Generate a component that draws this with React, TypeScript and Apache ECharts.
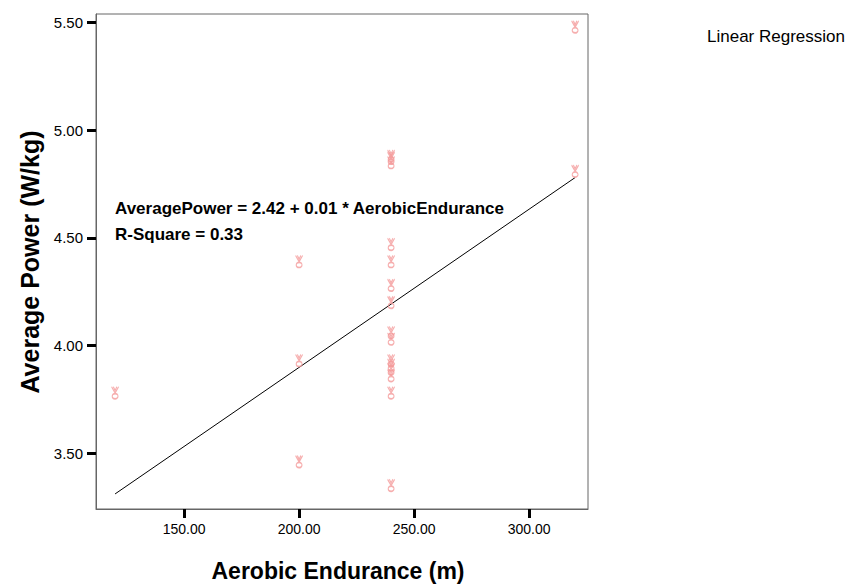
import React, { useEffect, useRef } from "react";
import * as echarts from "echarts";

// Data
const aerobicEndurance = [
  120,
  200, 200, 200,
  240, 240, 240, 240, 240, 240, 240, 240, 240, 240, 240, 240, 240, 240, 240,
  320, 320,
];
const averagePower = [
  3.78,
  4.39, 3.93, 3.46,
  4.88, 4.87, 4.85, 4.47, 4.39, 4.28, 4.2, 4.06, 4.03, 3.93, 3.91, 3.89, 3.86, 3.78, 3.35,
  5.48, 4.81,
];
const fitX = [120, 320];
const fitY = [3.31, 4.78];
const xTicks = [150, 200, 250, 300];
const yTicks = [3.5, 4.0, 4.5, 5.0, 5.5];

const equationText = "AveragePower = 2.42 + 0.01 * AerobicEndurance";
const rSquareText = "R-Square = 0.33";
const legendText = "Linear Regression";
const xTitle = "Aerobic Endurance (m)";
const yTitle = "Average Power (W/kg)";

const markerPath =
  "path://M0 0 L3 6 L6 0 M1.5 0 L3 3.5 L4.5 0 M0.5 9 a2.5 2.5 0 1 0 5 0 a2.5 2.5 0 1 0 -5 0";

export default function App() {
  const ref = useRef<HTMLDivElement>(null);
  useEffect(() => {
    document.body.style.margin = "0";
    const chart = echarts.init(ref.current!, null, { renderer: "svg" });
    const font = "'Liberation Sans', Arial, sans-serif";
    const points = aerobicEndurance.map((x, i) => [x, averagePower[i]]);
    const line = fitX.map((x, i) => [x, fitY[i]]);
    chart.setOption({
      animation: false,
      backgroundColor: "#ffffff",
      grid: {
        left: 96,
        right: 261,
        top: 14,
        bottom: 77,
        show: true,
        borderColor: "#666666",
        borderWidth: 1,
        backgroundColor: "transparent",
      },
      xAxis: {
        type: "value",
        min: 111.7,
        max: 325.6,
        axisLine: { show: true, lineStyle: { color: "#666666", width: 1 } },
        axisTick: {
          show: true,
          inside: false,
          length: 9,
          customValues: xTicks,
          lineStyle: { color: "#000000", width: 3 },
        },
        axisLabel: {
          customValues: xTicks,
          formatter: (v: number) => v.toFixed(2),
          color: "#000000",
          fontFamily: font,
          fontSize: 14,
          margin: 13,
        },
        splitLine: { show: false },
      },
      yAxis: {
        type: "value",
        min: 3.24,
        max: 5.54,
        axisLine: { show: true, lineStyle: { color: "#666666", width: 1 } },
        axisTick: {
          show: true,
          inside: false,
          length: 9,
          customValues: yTicks,
          lineStyle: { color: "#000000", width: 3 },
        },
        axisLabel: {
          customValues: yTicks,
          formatter: (v: number) => v.toFixed(2),
          color: "#000000",
          fontFamily: font,
          fontSize: 15,
          margin: 13,
        },
        splitLine: { show: false },
      },
      series: [
        {
          type: "line",
          data: line,
          showSymbol: false,
          symbol: "none",
          lineStyle: { color: "#000000", width: 1 },
          z: 3,
        },
        {
          type: "scatter",
          data: points,
          symbol: markerPath,
          symbolSize: [7, 12],
          itemStyle: {
            color: "rgba(0,0,0,0)",
            borderColor: "#f49a9a",
            borderWidth: 1.3,
          },
          z: 4,
        },
      ],
      graphic: [
        {
          type: "text",
          x: 115,
          y: 208,
          style: {
            text: equationText,
            font: `bold 17px ${font}`,
            fill: "#000000",
            verticalAlign: "middle",
          },
        },
        {
          type: "text",
          x: 115,
          y: 234,
          style: {
            text: rSquareText,
            font: `bold 17px ${font}`,
            fill: "#000000",
            verticalAlign: "middle",
          },
        },
        {
          type: "text",
          x: 707,
          y: 36,
          style: {
            text: legendText,
            font: `17px ${font}`,
            fill: "#000000",
            verticalAlign: "middle",
          },
        },
        {
          type: "text",
          x: 338,
          y: 571,
          style: {
            text: xTitle,
            font: `bold 23px ${font}`,
            fill: "#000000",
            align: "center",
            verticalAlign: "middle",
          },
        },
        {
          type: "text",
          x: 30,
          y: 262,
          rotation: Math.PI / 2,
          style: {
            text: yTitle,
            font: `bold 25px ${font}`,
            fill: "#000000",
            align: "center",
            verticalAlign: "middle",
          },
        },
      ],
    });
    return () => chart.dispose();
  }, []);
  return (
    <div
      ref={ref}
      style={{ position: "absolute", left: 0, top: 0, width: 849, height: 586 }}
    />
  );
}
